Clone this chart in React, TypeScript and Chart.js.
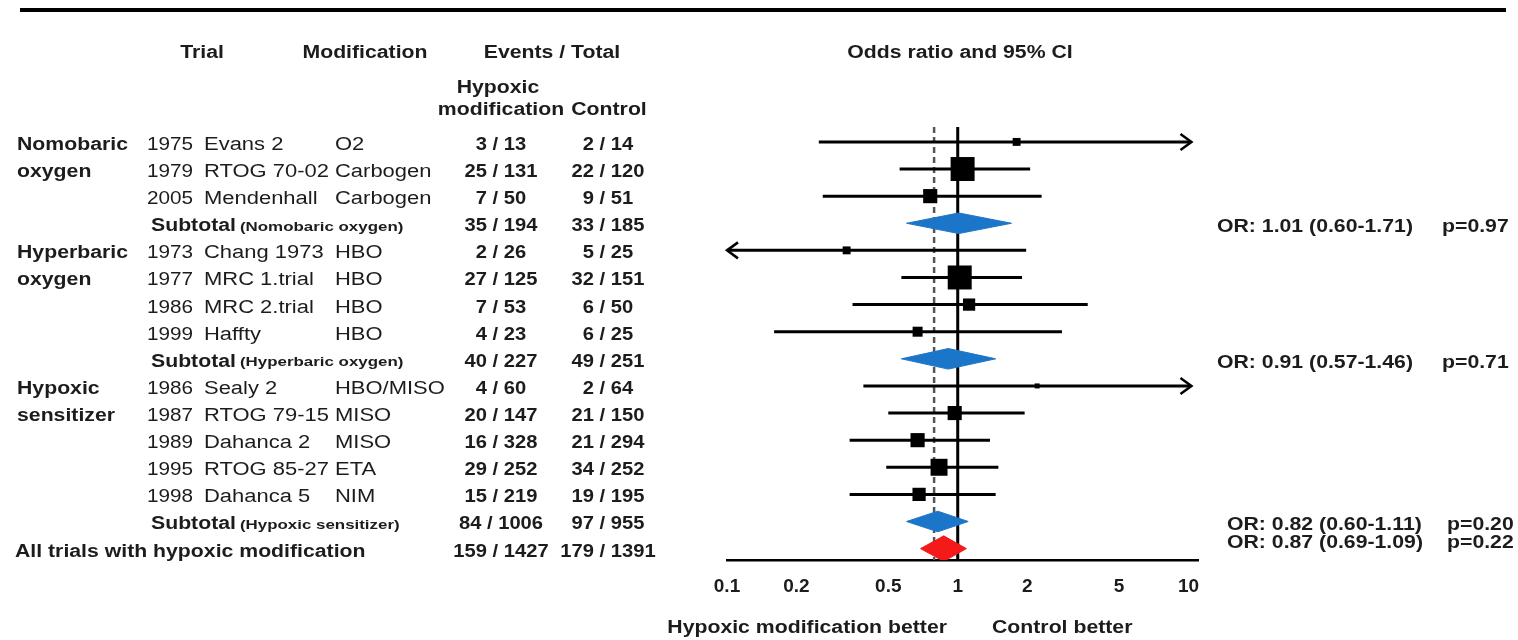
import React, { useEffect, useRef } from "react";
import { Chart, registerables } from "chart.js";
Chart.register(...registerables);

// ---------- data ----------
const trialRows = [0, 1, 2, 4, 5, 6, 7, 9, 10, 11, 12, 13];
const years = ["1975", "1979", "2005", "1973", "1977", "1986", "1999", "1986", "1987", "1989", "1995", "1998"];
const trialNames = ["Evans 2", "RTOG 70-02", "Mendenhall", "Chang 1973", "MRC 1.trial", "MRC 2.trial", "Haffty", "Sealy 2", "RTOG 79-15", "Dahanca 2", "RTOG 85-27", "Dahanca 5"];
const modifications = ["O2", "Carbogen", "Carbogen", "HBO", "HBO", "HBO", "HBO", "HBO/MISO", "MISO", "MISO", "ETA", "NIM"];
const hypoxicEvents = ["3 / 13", "25 / 131", "7 / 50", "2 / 26", "27 / 125", "7 / 53", "4 / 23", "4 / 60", "20 / 147", "16 / 328", "29 / 252", "15 / 219"];
const controlEvents = ["2 / 14", "22 / 120", "9 / 51", "5 / 25", "32 / 151", "6 / 50", "6 / 25", "2 / 64", "21 / 150", "21 / 294", "34 / 252", "19 / 195"];
const oddsRatios = [1.80, 1.05, 0.76, 0.33, 1.02, 1.12, 0.67, 2.21, 0.97, 0.67, 0.83, 0.68];
const ciLower = [0.25, 0.56, 0.26, 0.058, 0.57, 0.35, 0.16, 0.39, 0.50, 0.34, 0.49, 0.34];
const ciUpper = [13.0, 1.98, 2.23, 1.90, 1.82, 3.58, 2.75, 12.5, 1.87, 1.30, 1.42, 1.38];
const weights = [2.5, 23, 8, 2.5, 23, 6, 4, 1, 8, 8, 11.5, 7];

const groupLabels = ["Nomobaric", "oxygen", "Hyperbaric", "oxygen", "Hypoxic", "sensitizer"];
const groupLabelRows = [0, 1, 4, 5, 9, 10];

const subtotalRows = [3, 8, 14];
const subtotalNames = ["Nomobaric oxygen", "Hyperbaric oxygen", "Hypoxic sensitizer"];
const subtotalHypoxic = ["35 / 194", "40 / 227", "84 / 1006"];
const subtotalControl = ["33 / 185", "49 / 251", "97 / 955"];
const subtotalOR = [1.01, 0.91, 0.82];
const subtotalLower = [0.60, 0.57, 0.60];
const subtotalUpper = [1.71, 1.46, 1.11];
const subtotalP = ["0.97", "0.71", "0.20"];

const overallRow = 15;
const overallLabel = "All trials with hypoxic modification";
const overallHypoxic = "159 / 1427";
const overallControl = "179 / 1391";
const overallOR = 0.87;
const overallLower = 0.69;
const overallUpper = 1.09;
const overallP = "0.22";

const dashedRef = 0.79;
const xTicks = [0.1, 0.2, 0.5, 1, 2, 5, 10];
const X_MIN = 0.1;
const X_MAX = 11;
const X_CLIP = 10;
const Y_MIN = -0.55;
const Y_MAX = 15.42;

// ---------- styles ----------
const FAMILY = "'Liberation Sans', Arial, Helvetica, sans-serif";
const TEXT = "#1c1c1c";
const BLUE = "#1b75c9";
const RED = "#f41a1a";
const BOLD = `bold 18px ${FAMILY}`;
const REG = `18px ${FAMILY}`;
const SMALL = `bold 13px ${FAMILY}`;
const SXB = 1.18;
const SXR = 1.22;

function txt(ctx: CanvasRenderingContext2D, s: string, x: number, y: number, align: string, font: string, sx = 1, color = TEXT) {
  ctx.save();
  ctx.font = font;
  ctx.fillStyle = color;
  ctx.textBaseline = "middle";
  ctx.textAlign = "left";
  const w = ctx.measureText(s).width * sx;
  const left = align === "left" ? x : align === "center" ? x - w / 2 : x - w;
  ctx.translate(left, y);
  ctx.scale(sx, 1);
  ctx.fillText(s, 0, 0);
  ctx.restore();
  return w;
}

const tablePlugin = {
  id: "forestTable",
  afterDraw(chart: any) {
    const ctx: CanvasRenderingContext2D = chart.ctx;
    const ys = chart.scales.y;
    const xs = chart.scales.x;
    const rowY = (r: number) => ys.getPixelForValue(r) + 3;

    // top rule
    ctx.save();
    ctx.strokeStyle = "#000";
    ctx.lineWidth = 4;
    ctx.beginPath();
    ctx.moveTo(20, 10);
    ctx.lineTo(1506, 10);
    ctx.stroke();
    ctx.restore();

    // headers
    txt(ctx, "Trial", 202, 53, "center", BOLD, SXB);
    txt(ctx, "Modification", 365, 53, "center", BOLD, SXB);
    txt(ctx, "Events / Total", 552, 53, "center", BOLD, SXB);
    txt(ctx, "Odds ratio and 95% CI", 960, 53, "center", BOLD, SXB);
    txt(ctx, "Hypoxic", 498, 88, "center", BOLD, SXB);
    txt(ctx, "modification", 501, 110, "center", BOLD, SXB);
    txt(ctx, "Control", 609, 110, "center", BOLD, SXB);

    groupLabels.forEach((g, i) => txt(ctx, g, 17, rowY(groupLabelRows[i]), "left", BOLD, SXB));

    trialRows.forEach((r, i) => {
      const y = rowY(r);
      txt(ctx, years[i], 147, y, "left", REG, 1.15);
      txt(ctx, trialNames[i], 204, y, "left", REG, SXR);
      txt(ctx, modifications[i], 335, y, "left", REG, SXR);
      txt(ctx, hypoxicEvents[i], 501, y, "center", BOLD, 1.12);
      txt(ctx, controlEvents[i], 608, y, "center", BOLD, 1.12);
    });

    subtotalRows.forEach((r, i) => {
      const y = rowY(r);
      const w = txt(ctx, "Subtotal", 151, y, "left", BOLD, SXB);
      txt(ctx, `(${subtotalNames[i]})`, 151 + w + 4, y + 1, "left", SMALL, 1.3);
      txt(ctx, subtotalHypoxic[i], 501, y, "center", BOLD, 1.12);
      txt(ctx, subtotalControl[i], 608, y, "center", BOLD, 1.12);
      const orX = i < 2 ? 1217 : 1227;
      const pX = i < 2 ? 1442 : 1447;
      const orY = ys.getPixelForValue(r) + 4;
      txt(ctx, `OR: ${subtotalOR[i].toFixed(2)} (${subtotalLower[i].toFixed(2)}-${subtotalUpper[i].toFixed(2)})`, orX, orY, "left", BOLD, SXB);
      txt(ctx, `p=${subtotalP[i]}`, pX, orY, "left", BOLD, SXB);
    });

    const yo = rowY(overallRow);
    txt(ctx, overallLabel, 15, yo, "left", BOLD, SXB);
    txt(ctx, overallHypoxic, 501, yo, "center", BOLD, 1.12);
    txt(ctx, overallControl, 608, yo, "center", BOLD, 1.12);
    const oY = ys.getPixelForValue(14.65) + 4;
    txt(ctx, `OR: ${overallOR.toFixed(2)} (${overallLower.toFixed(2)}-${overallUpper.toFixed(2)})`, 1227, oY, "left", BOLD, SXB);
    txt(ctx, `p=${overallP}`, 1447, oY, "left", BOLD, SXB);

    // favour labels
    txt(ctx, "Hypoxic modification better", 947, 628, "right", BOLD, SXB);
    txt(ctx, "Control better", 992, 628, "left", BOLD, SXB);

    // arrows for truncated CIs
    ctx.save();
    ctx.strokeStyle = "#000";
    ctx.lineWidth = 2.5;
    trialRows.forEach((r, i) => {
      const py = ys.getPixelForValue(r);
      if (ciUpper[i] > X_CLIP) {
        const px = xs.getPixelForValue(X_CLIP) + 3;
        ctx.beginPath();
        ctx.moveTo(px - 11, py - 8);
        ctx.lineTo(px, py);
        ctx.lineTo(px - 11, py + 8);
        ctx.stroke();
      }
      if (ciLower[i] < X_MIN) {
        const px = xs.getPixelForValue(X_MIN);
        ctx.beginPath();
        ctx.moveTo(px + 11, py - 8);
        ctx.lineTo(px, py);
        ctx.lineTo(px + 11, py + 8);
        ctx.stroke();
      }
    });
    ctx.restore();
  },
};

export default function App() {
  const ref = useRef<HTMLCanvasElement | null>(null);

  useEffect(() => {
    document.body.style.margin = "0";
    document.body.style.overflow = "hidden";
    const canvas = ref.current;
    if (!canvas) return;

    const datasets: any[] = [];

    // reference lines
    datasets.push({
      data: [{ x: 1, y: Y_MIN }, { x: 1, y: Y_MAX }],
      borderColor: "#000",
      borderWidth: 3,
      pointRadius: 0,
      order: 20,
    });
    datasets.push({
      data: [{ x: dashedRef, y: Y_MIN }, { x: dashedRef, y: Y_MAX }],
      borderColor: "#555",
      borderWidth: 2.5,
      borderDash: [6, 4],
      pointRadius: 0,
      order: 19,
    });

    // confidence interval lines
    trialRows.forEach((r, i) => {
      datasets.push({
        data: [
          { x: Math.max(ciLower[i], X_MIN), y: r },
          { x: Math.min(ciUpper[i], X_CLIP) + 0.08, y: r },
        ],
        borderColor: "#000",
        borderWidth: 3,
        pointRadius: 0,
        order: 10,
      });
    });

    // point estimates (squares sized by weight)
    datasets.push({
      data: trialRows.map((r, i) => ({ x: oddsRatios[i], y: r })),
      showLine: false,
      pointStyle: "rect",
      pointRadius: weights.map((w) => 5 * Math.sqrt(w) * Math.SQRT1_2),
      pointBackgroundColor: "#000",
      pointBorderColor: "#000",
      pointBorderWidth: 0,
      order: 1,
    });

    // diamonds
    const diamond = (row: number, est: number, lo: number, hi: number, h: number, color: string) => ({
      data: [
        { x: lo, y: row },
        { x: est, y: row - h },
        { x: hi, y: row },
        { x: est, y: row + h },
        { x: lo, y: row },
      ],
      borderColor: color,
      backgroundColor: color,
      borderWidth: 1,
      fill: "shape",
      pointRadius: 0,
      tension: 0,
      order: 2,
    });
    subtotalRows.forEach((r, i) => datasets.push(diamond(r, subtotalOR[i], subtotalLower[i], subtotalUpper[i], 0.38, BLUE)));
    datasets.push(diamond(overallRow, overallOR, overallLower, overallUpper, 0.47, RED));

    Chart.defaults.font.family = FAMILY;

    const chart = new Chart(canvas, {
      type: "line",
      data: { datasets },
      options: {
        animation: false,
        responsive: true,
        maintainAspectRatio: false,
        events: [],
        layout: { padding: { left: 727, right: 320, top: 127, bottom: 20 } },
        plugins: { legend: { display: false }, tooltip: { enabled: false }, title: { display: false } },
        scales: {
          x: {
            type: "logarithmic",
            min: X_MIN,
            max: X_MAX,
            position: "bottom",
            grid: { display: false, drawTicks: false },
            border: { display: true, color: "#000", width: 2.5 },
            afterBuildTicks: (scale: any) => {
              scale.ticks = xTicks.map((v) => ({ value: v }));
            },
            afterFit: (scale: any) => {
              scale.height = 60;
            },
            ticks: {
              autoSkip: false,
              maxRotation: 0,
              padding: 15,
              color: TEXT,
              font: { family: FAMILY, size: 19, weight: "bold" },
              callback: (v: any) => String(v),
            },
          },
          y: {
            type: "linear",
            min: Y_MIN,
            max: Y_MAX,
            reverse: true,
            display: false,
          },
        },
      } as any,
      plugins: [tablePlugin],
    });

    return () => chart.destroy();
  }, []);

  return (
    <div style={{ position: "relative", width: "1518px", height: "640px" }}>
      <canvas ref={ref} />
    </div>
  );
}
